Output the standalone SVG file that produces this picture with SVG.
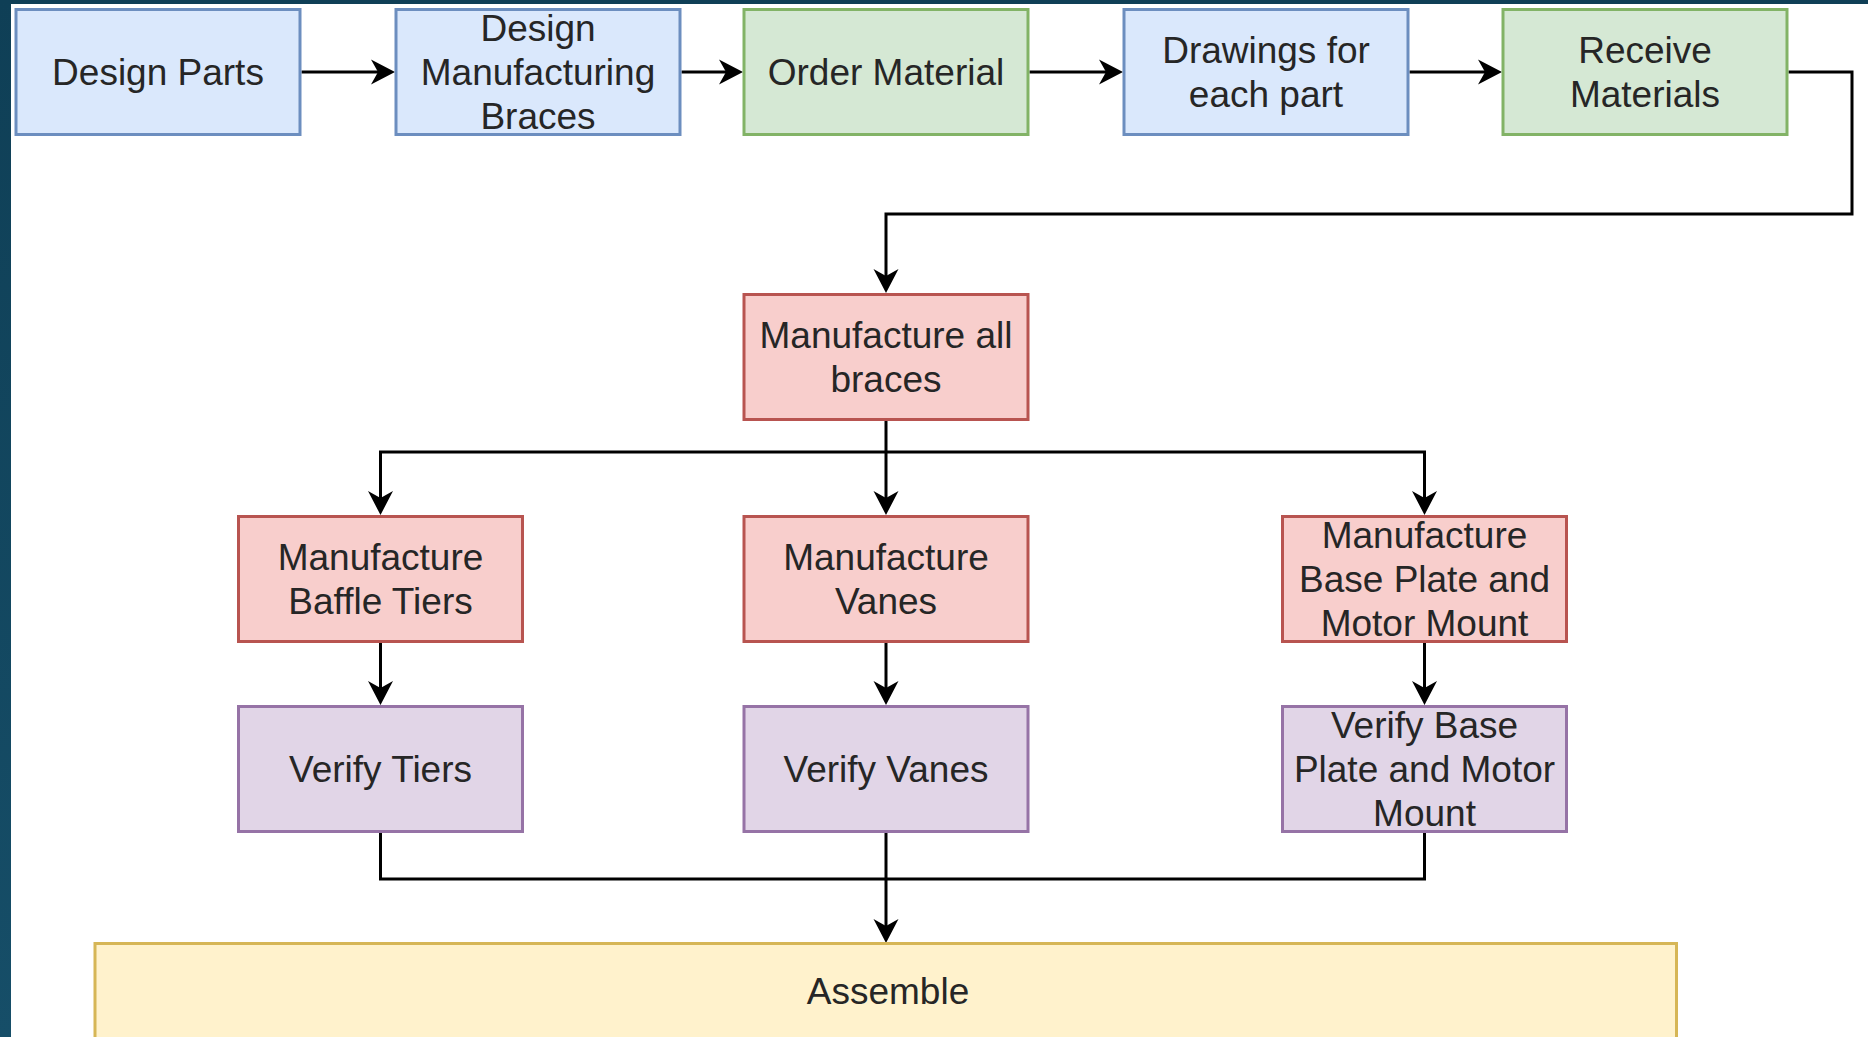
<svg xmlns="http://www.w3.org/2000/svg" width="1868" height="1037" viewBox="0 0 1868 1037">
  <defs>
    <linearGradient id="frame" x1="0" y1="0" x2="0" y2="1">
      <stop offset="0" stop-color="#0f3f56"/>
      <stop offset="1" stop-color="#164e68"/>
    </linearGradient>
    <marker id="arr" markerUnits="userSpaceOnUse" markerWidth="30" markerHeight="30" viewBox="-26 -15 30 30" refX="-10" refY="0" orient="auto">
      <path d="M0,0 L-24,-12.5 L-17,0 L-24,12.5 Z" fill="#000"/>
    </marker>
    <style>
      .box { stroke-width: 3; }
      .blue { fill: #dae8fc; stroke: #6c8ebf; }
      .green { fill: #d5e8d4; stroke: #82b366; }
      .red { fill: #f8cecc; stroke: #b85450; }
      .purple { fill: #e1d5e7; stroke: #9673a6; }
      .yellow { fill: #fff2cc; stroke: #d6b656; }
      .lbl { font-family: "Liberation Sans", Arial, sans-serif; font-size: 37px; fill: #262626; text-anchor: middle; }
      .wire { fill: none; stroke: #000; stroke-width: 3; }
      .arrow { marker-end: url(#arr); }
    </style>
  </defs>

  <!-- page background and frame -->
  <rect x="0" y="0" width="1868" height="1037" fill="#ffffff"/>
  <rect x="0" y="0" width="1868" height="4" fill="#0f3f56"/>
  <rect x="0" y="0" width="11" height="1037" fill="url(#frame)"/>

  <!-- connectors -->
  <g id="connectors">
    <path class="wire arrow" d="M301.5,72 H385"/>
    <path class="wire arrow" d="M681.5,72 H733"/>
    <path class="wire arrow" d="M1029.5,72 H1113"/>
    <path class="wire arrow" d="M1409.5,72 H1492"/>
    <path class="wire arrow" d="M1788.5,72 H1852 V214 H886 V283"/>
    <path class="wire arrow" d="M886,421 V505"/>
    <path class="wire arrow" d="M886,452 H380.5 V505"/>
    <path class="wire arrow" d="M886,452 H1424.5 V505"/>
    <path class="wire arrow" d="M380.5,643 V695"/>
    <path class="wire arrow" d="M886,643 V695"/>
    <path class="wire arrow" d="M1424.5,643 V695"/>
    <path class="wire" d="M380.5,833 V879 H1424.5 V833"/>
    <path class="wire arrow" d="M886,833 V933"/>
  </g>

  <!-- top row -->
  <g id="design-parts">
    <rect class="box blue" x="16" y="9.5" width="284" height="125"/>
    <text class="lbl" x="158" y="85">Design Parts</text>
  </g>
  <g id="design-braces">
    <rect class="box blue" x="396" y="9.5" width="284" height="125"/>
    <text class="lbl" x="538" y="41">Design</text>
    <text class="lbl" x="538" y="85">Manufacturing</text>
    <text class="lbl" x="538" y="129">Braces</text>
  </g>
  <g id="order-material">
    <rect class="box green" x="744" y="9.5" width="284" height="125"/>
    <text class="lbl" x="886" y="85">Order Material</text>
  </g>
  <g id="drawings">
    <rect class="box blue" x="1124" y="9.5" width="284" height="125"/>
    <text class="lbl" x="1266" y="63">Drawings for</text>
    <text class="lbl" x="1266" y="107">each part</text>
  </g>
  <g id="receive-materials">
    <rect class="box green" x="1503" y="9.5" width="284" height="125"/>
    <text class="lbl" x="1645" y="63">Receive</text>
    <text class="lbl" x="1645" y="107">Materials</text>
  </g>

  <!-- braces -->
  <g id="manufacture-braces">
    <rect class="box red" x="744" y="294.5" width="284" height="125"/>
    <text class="lbl" x="886" y="348">Manufacture all</text>
    <text class="lbl" x="886" y="392">braces</text>
  </g>

  <!-- manufacturing steps -->
  <g id="manufacture-baffle">
    <rect class="box red" x="238.5" y="516.5" width="284" height="125"/>
    <text class="lbl" x="380.5" y="570">Manufacture</text>
    <text class="lbl" x="380.5" y="614">Baffle Tiers</text>
  </g>
  <g id="manufacture-vanes">
    <rect class="box red" x="744" y="516.5" width="284" height="125"/>
    <text class="lbl" x="886" y="570">Manufacture</text>
    <text class="lbl" x="886" y="614">Vanes</text>
  </g>
  <g id="manufacture-base">
    <rect class="box red" x="1282.5" y="516.5" width="284" height="125"/>
    <text class="lbl" x="1424.5" y="548">Manufacture</text>
    <text class="lbl" x="1424.5" y="592">Base Plate and</text>
    <text class="lbl" x="1424.5" y="636">Motor Mount</text>
  </g>

  <!-- verification steps -->
  <g id="verify-tiers">
    <rect class="box purple" x="238.5" y="706.5" width="284" height="125"/>
    <text class="lbl" x="380.5" y="782">Verify Tiers</text>
  </g>
  <g id="verify-vanes">
    <rect class="box purple" x="744" y="706.5" width="284" height="125"/>
    <text class="lbl" x="886" y="782">Verify Vanes</text>
  </g>
  <g id="verify-base">
    <rect class="box purple" x="1282.5" y="706.5" width="284" height="125"/>
    <text class="lbl" x="1424.5" y="738">Verify Base</text>
    <text class="lbl" x="1424.5" y="782">Plate and Motor</text>
    <text class="lbl" x="1424.5" y="826">Mount</text>
  </g>

  <!-- final assembly -->
  <g id="assemble">
    <rect class="box yellow" x="95" y="943.5" width="1581.5" height="200"/>
    <text class="lbl" x="888" y="1004">Assemble</text>
  </g>
</svg>
